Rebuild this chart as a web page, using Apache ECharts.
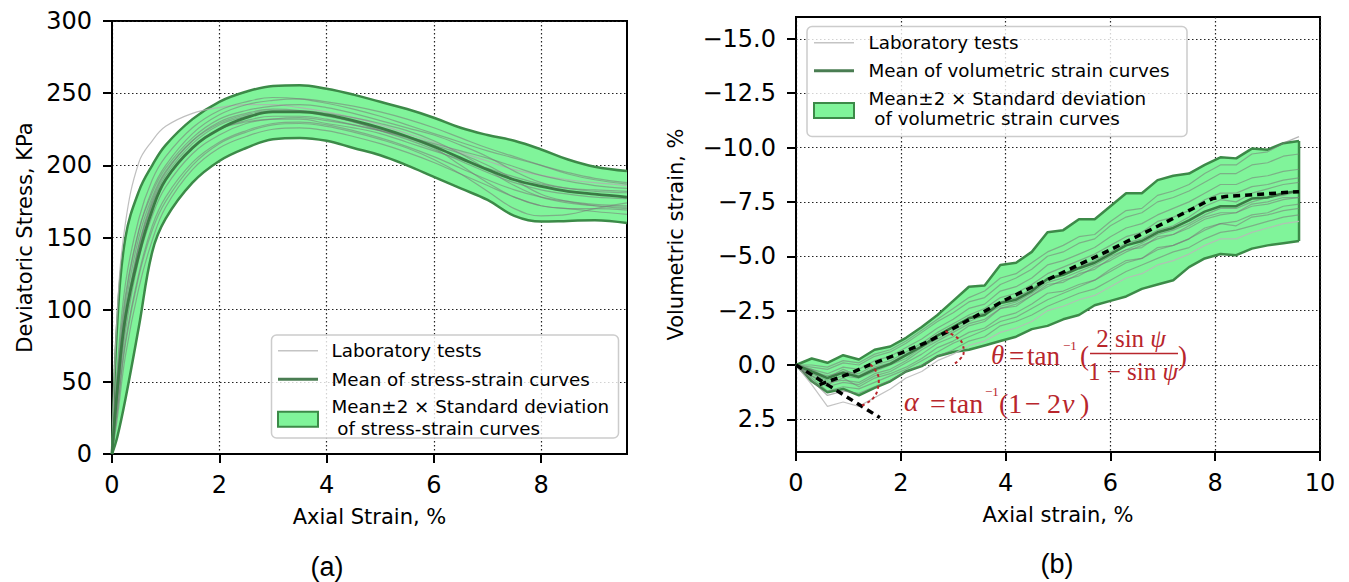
<!DOCTYPE html>
<html><head><meta charset="utf-8">
<script src="https://cdn.jsdelivr.net/npm/echarts@6/dist/echarts.min.js"></script>
<style>html,body{margin:0;padding:0;background:#fff}#c{width:1349px;height:582px}</style>
</head><body><div id="c"></div><script>
// ---------- Panel (a): stress-strain ----------
const stressX = [0,0.1,0.25,0.5,0.75,1,1.5,2,2.5,3,3.5,4,4.5,5,5.5,6,6.5,7,7.5,8,8.5,9,9.6];
const stressMean  = [0,45,95,138,169,190,212,225,233,237,237,235,231,226,220,213,205,197,190,185.5,182,180,178];
const stressUpper = [0,92,150,182,200,214,232,244,251,255,255.5,253,249,244,239,233,226,221,217,211,204,199,196];
const stressLower = [0,12,38,88,140,163,188,203,212,218,219,217,212,207,200,192,184,176,165,161,161.5,162,160];
const stressLabTests = [
  [0,100,160,202,217,227,236,240,242,242,240,237,233,228,222,216,209,203,197,193,190,188,186],
  [0,60,118,163,190,206,226,238,244,247,246,243,239,234,228,222,216,210,205,200,195,191,188],
  [0,40,92,144,174,193,215,228,234,237,237,234,230,224,218,211,203,195,188,183,180,178,177],
  [0,30,78,125,158,178,202,216,224,229,230,228,224,219,213,206,198,190,183,178,175,173,172],
  [0,50,107,155,183,200,222,235,242,245,246,244,241,237,232,226,219,212,206,200,194,190,187],
  [0,25,68,115,148,171,197,212,220,225,226,224,220,215,209,202,194,186,178,172,170,170,169],
  [0,45,97,145,176,195,217,230,236,239,238,235,230,225,220,215,210,205,199,193,189,186,184],
  [0,35,85,135,165,185,208,221,229,232,233,231,228,224,219,212,200,188,178,172,170,168,166],
  [0,55,110,155,181,198,219,232,238,241,242,240,236,231,226,221,214,206,196,188,184,182,181],
  [0,38,90,140,171,190,212,225,231,234,234,232,228,224,220,214,208,200,190,180,175,172,170],
  [0,48,102,150,178,196,217,229,235,238,238,236,233,229,224,217,208,197,186,178,174,172,171],
  [0,42,95,143,173,191,213,225,230,232,232,229,226,222,216,210,204,198,192,187,184,183,182],
  [0,30,76,123,155,175,200,215,223,228,229,227,223,218,212,204,194,182,170,165,166,170,174]
];
const stressXTicks = [0,2,4,6,8];

// ---------- Panel (b): volumetric strain ----------
const volX = [0,0.3,0.6,0.9,1.2,1.5,1.8,2.1,2.4,2.7,3.0,3.3,3.6,3.9,4.2,4.5,4.8,5.1,5.4,5.7,6.0,6.3,6.6,6.9,7.2,7.5,7.8,8.1,8.4,8.7,9.0,9.3,9.6];
const volMean  = [0,0.3,0.6,0.35,0.55,0.2,-0.05,-0.45,-0.85,-1.35,-1.75,-2.15,-2.3,-2.85,-3.0,-3.4,-3.95,-4.15,-4.45,-4.7,-5.1,-5.5,-5.7,-6.1,-6.3,-6.65,-7.05,-7.3,-7.3,-7.65,-7.7,-7.9,-8.0];
const volUpper = [0,-0.3,-0.1,-0.45,-0.25,-0.7,-0.85,-1.25,-1.75,-2.3,-2.95,-3.6,-3.65,-4.6,-4.7,-5.2,-6.1,-6.2,-6.7,-6.7,-7.3,-7.9,-7.9,-8.5,-8.7,-8.8,-9.2,-9.55,-9.5,-9.95,-9.9,-10.2,-10.3];
const volLower = [0,0.75,1.25,1.1,1.4,1.05,0.75,0.3,0.05,-0.4,-0.6,-0.7,-0.9,-1.1,-1.3,-1.65,-1.8,-2.1,-2.3,-2.75,-2.95,-3.15,-3.5,-3.7,-3.9,-4.5,-4.9,-5.1,-5.05,-5.35,-5.5,-5.6,-5.7];
const volLabTests = [
  [0,0.3,0.9,0.6,1.0,0.6,0.4,0.1,-0.3,-0.8,-1.1,-1.5,-1.7,-2.2,-2.4,-2.8,-3.3,-3.4,-3.7,-3.9,-4.4,-4.8,-4.9,-5.4,-5.5,-5.8,-6.3,-6.5,-6.4,-6.8,-6.9,-7.1,-7.2],
  [0,0.5,1.0,0.8,0.9,0.5,0.3,-0.1,-0.5,-1.0,-1.3,-1.8,-2.0,-2.6,-2.7,-3.2,-3.7,-3.8,-4.2,-4.4,-4.9,-5.3,-5.4,-5.9,-6.0,-6.4,-6.8,-7.0,-7.0,-7.4,-7.5,-7.7,-7.7],
  [0,0.9,1.9,1.7,1.9,1.5,1.1,0.6,0.3,-0.2,-0.5,-0.9,-1.1,-1.5,-1.7,-2.0,-2.5,-2.7,-3.0,-3.2,-3.6,-4.0,-4.2,-4.6,-4.8,-5.1,-5.5,-5.8,-5.8,-6.1,-6.3,-6.5,-6.6],
  [0,0.2,0.4,0.1,0.2,-0.2,-0.4,-0.8,-1.2,-1.7,-2.1,-2.6,-2.8,-3.4,-3.6,-4.0,-4.6,-4.8,-5.1,-5.4,-5.9,-6.3,-6.5,-6.9,-7.2,-7.5,-7.9,-8.3,-8.3,-8.6,-8.7,-8.9,-9.0],
  [0,0.1,0.2,-0.1,0.0,-0.4,-0.6,-1.0,-1.5,-2.0,-2.4,-2.9,-3.1,-3.7,-4.0,-4.4,-5.0,-5.2,-5.6,-5.8,-6.4,-6.8,-7.0,-7.5,-7.7,-8.0,-8.4,-8.8,-8.8,-9.2,-9.3,-9.6,-9.7],
  [0,0.0,0.1,-0.2,-0.1,-0.5,-0.7,-1.1,-1.6,-2.1,-2.6,-3.1,-3.4,-4.0,-4.2,-4.7,-5.2,-5.5,-5.9,-6.0,-6.6,-7.1,-7.2,-7.8,-8.0,-8.3,-8.8,-9.2,-9.2,-9.7,-9.8,-10.2,-10.5],
  [0,0.4,0.7,0.5,0.6,0.3,0.0,-0.3,-0.8,-1.2,-1.6,-2.0,-2.3,-2.7,-2.9,-3.3,-3.8,-4.0,-4.3,-4.6,-5.0,-5.3,-5.6,-6.0,-6.2,-6.5,-6.9,-7.2,-7.2,-7.5,-7.7,-7.8,-8.0],
  [0,0.6,1.2,1.0,1.1,0.8,0.5,0.2,-0.2,-0.6,-1.0,-1.3,-1.6,-2.0,-2.2,-2.6,-3.0,-3.3,-3.6,-3.9,-4.3,-4.7,-4.9,-5.3,-5.5,-5.8,-6.2,-6.5,-6.6,-6.9,-7.0,-7.3,-7.4],
  [0,0.3,0.5,0.3,0.4,0.0,-0.2,-0.6,-1.0,-1.5,-1.9,-2.3,-2.6,-3.1,-3.3,-3.7,-4.2,-4.5,-4.8,-5.1,-5.5,-5.9,-6.1,-6.6,-6.8,-7.1,-7.6,-7.9,-7.9,-8.2,-8.3,-8.5,-8.6],
  [0,0.7,1.4,1.2,1.3,1.0,0.7,0.3,0.0,-0.4,-0.7,-1.1,-1.3,-1.8,-2.0,-2.3,-2.7,-3.0,-3.3,-3.5,-3.9,-4.3,-4.6,-4.9,-5.2,-5.4,-5.8,-6.1,-6.2,-6.4,-6.6,-6.8,-6.9],
  [0,0.2,0.6,0.2,0.5,0.1,-0.1,-0.5,-0.9,-1.4,-1.7,-2.2,-2.4,-2.9,-3.1,-3.5,-4.0,-4.2,-4.5,-4.8,-5.2,-5.6,-5.8,-6.2,-6.4,-6.8,-7.3,-7.6,-7.5,-7.9,-8.1,-8.3,-8.4],
  [0,0.5,0.8,0.7,0.8,0.4,0.2,-0.2,-0.7,-1.1,-1.5,-1.9,-2.1,-2.6,-2.8,-3.2,-3.6,-3.9,-4.1,-4.5,-4.8,-5.2,-5.5,-5.8,-6.0,-6.3,-6.7,-6.9,-7.0,-7.3,-7.4,-7.6,-7.7]
];
const volYTicks = [-15,-12.5,-10,-7.5,-5,-2.5,0,2.5];
// dashed construction lines and angle arcs
const alphaLine = [[0,0],[1.6,2.42]];
const thetaLine = [[0.45,0.9],[1.0,0.42],[1.45,-0.05],[2.0,-0.55],[2.5,-1.05],[2.9,-1.55],[4.0,-3.0],[5.0,-4.15],[6.0,-5.3],[7.0,-6.5],[7.95,-7.65],[8.2,-7.75],[9.6,-7.97]];
const alphaArc = [[1.42,-0.02],[1.53,0.3],[1.58,0.7],[1.56,1.1],[1.48,1.5],[1.35,1.75],[1.22,1.9]];
const thetaArc = [[2.85,-1.55],[3.05,-1.3],[3.18,-0.95],[3.2,-0.6],[3.12,-0.25],[2.98,0.0]];

// ---------- styles ----------
const FONT = 'DejaVu Sans';
const BAND_FILL = '#80f49a';
const BAND_EDGE = '#3c8a48';
const MEAN_COL = '#3b7b45';
const LAB_COL = 'rgba(120,120,120,0.55)';
const GRID_LINE = {color:'#222', width:1.2, type:[1.5,2.5]};
const RED = '#b8262c';

function pts(xs, ys){ return xs.map((x,i)=>[x, ys[i]]); }
function line(gi, data, style, extra){
  return Object.assign({type:'line', xAxisIndex:gi, yAxisIndex:gi, data:data, symbol:'none',
    silent:true, animation:false, lineStyle:style}, extra||{});
}
function axisBase(){
  return {
    axisLine:{show:true, onZero:false, lineStyle:{color:'#000', width:2}},
    axisTick:{show:true, length:9, lineStyle:{color:'#000', width:2}},
    axisLabel:{color:'#000', fontSize:24, fontFamily:FONT},
    nameTextStyle:{color:'#000', fontSize:21, fontFamily:FONT},
    nameLocation:'middle', nameMoveOverlap:false
  };
}
const series = [];
// panel (a) band (stacked on y; y stored in column 0)
const smoothA = {smooth:0.4};
series.push(line(0, stressX.map((x,i)=>[stressLower[i], x]), {opacity:0},
  Object.assign({stack:'bandA', stackStrategy:'all', encode:{x:1,y:0}}, smoothA)));
series.push(line(0, stressX.map((x,i)=>[stressUpper[i]-stressLower[i], x]), {opacity:0},
  Object.assign({stack:'bandA', stackStrategy:'all', encode:{x:1,y:0}, areaStyle:{color:BAND_FILL, opacity:1}}, smoothA)));
series.push(line(0, pts(stressX, stressUpper), {color:BAND_EDGE, width:2.5}, smoothA));
series.push(line(0, pts(stressX, stressLower), {color:BAND_EDGE, width:2.5}, smoothA));
stressLabTests.forEach((c,k)=>series.push(line(0, pts(stressX, c),
  {color: k===0 ? 'rgba(175,175,175,0.8)' : LAB_COL, width:1.2}, smoothA)));
series.push(line(0, pts(stressX, stressMean), {color:MEAN_COL, width:2.8}, smoothA));

// panel (b) band
series.push(line(1, volX.map((x,i)=>[volLower[i], x]), {opacity:0},
  {stack:'bandB', stackStrategy:'all', encode:{x:1,y:0},
   markLine:{silent:true, z:1, animation:false, symbol:['none','none'], label:{show:false},
     lineStyle:GRID_LINE, data: volYTicks.map(v=>({yAxis:v}))}}));
series.push(line(1, volX.map((x,i)=>[volUpper[i]-volLower[i], x]), {opacity:0},
  {stack:'bandB', stackStrategy:'all', encode:{x:1,y:0}, areaStyle:{color:BAND_FILL, opacity:1}}));
series.push(line(1, pts(volX, volUpper), {color:BAND_EDGE, width:2.5}));
series.push(line(1, pts(volX, volLower), {color:BAND_EDGE, width:2.5}));
const nLast = volX.length-1;
series.push(line(1, [[volX[nLast], volUpper[nLast]],[volX[nLast], volLower[nLast]]], {color:BAND_EDGE, width:2.5}));
volLabTests.forEach((c,k)=>series.push(line(1, pts(volX, c),
  {color: k===2 ? 'rgba(185,185,185,0.85)' : LAB_COL, width:1.2})));
series.push(line(1, pts(volX, volMean), {color:MEAN_COL, width:2.5}));
series.push(line(1, thetaLine, {color:'#000', width:3.5, type:[7,5]}, {z:5}));
series.push(line(1, alphaLine, {color:'#000', width:3.5, type:[7,5]}, {z:5}));
series.push(line(1, alphaArc, {color:RED, width:2, type:[3,3]}, {z:5, smooth:true}));
series.push(line(1, thetaArc, {color:RED, width:2, type:[3,3]}, {z:5, smooth:true}));

// ---------- axes ----------
const xA = Object.assign(axisBase(), {type:'value', gridIndex:0, min:0, max:9.6, interval:2,
  name:'Axial Strain, %', nameGap:52,
  splitLine:{show:true, lineStyle:GRID_LINE}});
xA.axisTick.customValues = stressXTicks; xA.axisLabel.customValues = stressXTicks; xA.axisLabel.margin = 19;
const yA = Object.assign(axisBase(), {type:'value', gridIndex:0, min:0, max:300, interval:50,
  name:'Deviatoric Stress, KPa', nameGap:77,
  splitLine:{show:true, lineStyle:GRID_LINE}});
yA.axisLabel.margin = 20;
const xB = Object.assign(axisBase(), {type:'value', gridIndex:1, min:0, max:10, interval:2,
  name:'Axial strain, %', nameGap:52,
  splitLine:{show:true, lineStyle:GRID_LINE}});
xB.axisLabel.margin = 19;
const yB = Object.assign(axisBase(), {type:'value', gridIndex:1, min:-16, max:4, inverse:true,
  name:'Volumetric strain, %', nameGap:110,
  splitLine:{show:false}});
yB.axisTick.customValues = volYTicks;
yB.axisLabel.customValues = volYTicks;
yB.axisLabel.margin = 20;
yB.axisLabel.formatter = v => (v<0 ? '\u2212' : '') + Math.abs(v).toFixed(1);

// ---------- legends & annotations (graphic) ----------
function txt(x, y, s, size, opts){
  opts = opts || {};
  const st = {text:s, fill:opts.fill||'#000',
    fontSize:size, fontFamily:opts.family||FONT, fontStyle:opts.italic?'italic':'normal',
    textAlign:opts.align||'left', align:opts.align||'left',
    textVerticalAlign:'middle', verticalAlign:'middle'};
  if (opts.rich) st.rich = opts.rich;
  return {type:'text', x:x, y:y, z:100, silent:true, style:st};
}
function legend(box, hx, tx, rows, labels){
  const g = [];
  g.push({type:'rect', z:99, silent:true, shape:{x:box[0], y:box[1], width:box[2], height:box[3], r:5},
    style:{fill:'rgba(255,255,255,0.8)', stroke:'#cccccc', lineWidth:1.5}});
  g.push({type:'line', z:100, silent:true, shape:{x1:hx, y1:rows[0], x2:hx+40, y2:rows[0]}, style:{stroke:'#c4c4c4', lineWidth:1.5}});
  g.push({type:'line', z:100, silent:true, shape:{x1:hx, y1:rows[1], x2:hx+40, y2:rows[1]}, style:{stroke:'#4a7d52', lineWidth:3}});
  g.push({type:'rect', z:100, silent:true, shape:{x:hx, y:rows[4], width:40, height:15}, style:{fill:BAND_FILL, stroke:BAND_EDGE, lineWidth:2}});
  g.push(txt(tx, rows[0], labels[0], 18.3));
  g.push(txt(tx, rows[1], labels[1], 18.3));
  g.push(txt(tx, rows[2], labels[2], 18.3));
  g.push(txt(tx, rows[3], labels[3], 18.3));
  return g;
}
const SERIF = 'Liberation Serif';
const fracRich = {
  n:{fontFamily:SERIF, fontSize:25, fill:RED},
  i:{fontFamily:SERIF, fontSize:25, fill:RED, fontStyle:'italic'}
};
const graphics = [].concat(
  legend([271.5, 335, 347, 103], 278, 331.5, [350.7, 379.3, 406.7, 428.3, 411.7],
    ['Laboratory tests','Mean of stress-strain curves','Mean\u00b12 \u00d7 Standard deviation',' of stress-strain curves']),
  legend([807, 26.5, 380, 110], 814, 868.5, [42.7, 70.7, 98.3, 118.3, 103],
    ['Laboratory tests','Mean of volumetric strain curves','Mean\u00b12 \u00d7 Standard deviation',' of volumetric strain curves']),
  [
    txt(327, 567, '(a)', 27, {family:'Liberation Sans', align:'center'}),
    txt(1057, 564, '(b)', 27, {family:'Liberation Sans', align:'center'}),
    // theta formula
    txt(991, 355, '\u03b8', 27, {family:SERIF, italic:true, fill:RED}),
    txt(1009, 356, '=', 27, {family:SERIF, fill:RED}),
    txt(1027, 356, 'tan', 27, {family:SERIF, fill:RED}),
    txt(1063, 345, '\u22121', 13, {family:SERIF, fill:RED}),
    txt(1080, 356, '(', 27, {family:SERIF, fill:RED}),
    txt(1131, 338, '{n|2 sin }{i|\u03c8}', 25, {family:SERIF, fill:RED, align:'center', rich:fracRich}),
    txt(1133, 371, '{n|1 \u2212 sin }{i|\u03c8}', 25, {family:SERIF, fill:RED, align:'center', rich:fracRich}),
    {type:'line', z:100, silent:true, shape:{x1:1090, y1:353.5, x2:1178, y2:353.5}, style:{stroke:RED, lineWidth:1.5}},
    txt(1178, 356, ')', 27, {family:SERIF, fill:RED}),
    // alpha formula
    txt(904, 401, '\u03b1', 28, {family:SERIF, italic:true, fill:RED}),
    txt(930, 403, '=', 28, {family:SERIF, fill:RED}),
    txt(949, 403, 'tan', 28, {family:SERIF, fill:RED}),
    txt(985, 391, '\u22121', 13, {family:SERIF, fill:RED}),
    txt(999, 403, '(1', 28, {family:SERIF, fill:RED}),
    txt(1025, 403, '\u2212', 28, {family:SERIF, fill:RED}),
    txt(1047, 403, '2', 28, {family:SERIF, fill:RED}),
    txt(1062, 403, '\u03bd', 28, {family:SERIF, italic:true, fill:RED}),
    txt(1080, 403, ')', 28, {family:SERIF, fill:RED})
  ]
);

const chart = echarts.init(document.getElementById('c'), null, {renderer:'svg', width:1349, height:582});
chart.setOption({
  animation:false,
  backgroundColor:'#fff',
  grid:[
    {left:112, top:21, width:515, height:433, show:true, borderColor:'#000', borderWidth:2, backgroundColor:'transparent', containLabel:false, outerBoundsMode:'none'},
    {left:796, top:17, width:524, height:435, show:true, borderColor:'#000', borderWidth:2, backgroundColor:'transparent', containLabel:false, outerBoundsMode:'none'}
  ],
  xAxis:[xA, xB],
  yAxis:[yA, yB],
  series:series,
  graphic:{elements:graphics}
});
</script></body></html>
